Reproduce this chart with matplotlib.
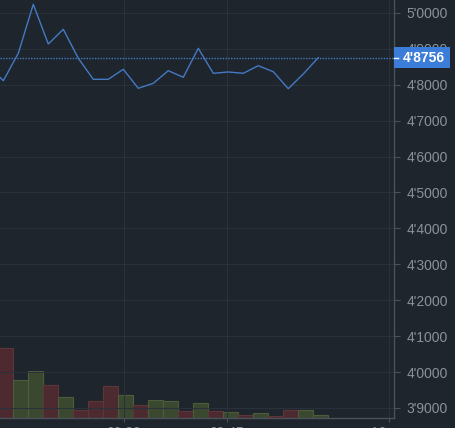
import numpy as np
import matplotlib
matplotlib.use("Agg")
import matplotlib.pyplot as plt
from matplotlib.patches import Rectangle
from matplotlib.transforms import blended_transform_factory, Bbox, TransformedBbox
from matplotlib.lines import Line2D

# ---- data ----
prices = [4.8532, 4.8114, 4.8877, 5.0242, 4.9136, 4.9546, 4.8738, 4.8153,
          4.8153, 4.8432, 4.7903, 4.8042, 4.8393, 4.8209, 4.9017, 4.8320,
          4.8357, 4.8320, 4.8532, 4.8365, 4.7891, 4.8301, 4.8756]
volumes = [None, 70, 38, 47, 33, 21, 8.3, 17, 32, 23.3, 13, 18.3, 17, 7, 15, 7, 6, 3, 5, 2, 8.3, 8, 3]
last_price = 4.8756
y_ticks = [5.0, 4.9, 4.8, 4.7, 4.6, 4.5, 4.4, 4.3, 4.2, 4.1, 4.0, 3.9]
time_tick_pos = [8.05, 14.9, 25.7]
time_tick_labels = ["09:30", "09:45", "10:00"]

BG = "#1e252c"
GRID = "#29313a"
SPINE = "#4a5159"
TXT = "#8a9199"
LINE = "#4479c4"
RED_F, RED_E = "#4c2a30", "#5e353a"
GRN_F, GRN_E = "#3b4830", "#4d5d3b"
BLUE_BOX = "#3b7dd8"

plt.rcParams['font.family'] = ['Liberation Sans', 'DejaVu Sans']

W, H = 456, 428
fig = plt.figure(figsize=(W / 100, H / 100), dpi=100, facecolor=BG)
pos = [0, 10 / H, 394 / W, 418 / H]

x = np.arange(len(prices)) - 1

# volume axis (behind)
axv = fig.add_axes(pos, facecolor=BG)
axv.set_xlim(-0.22, 26.05)
axv.set_ylim(0, 418)
for i in range(1, len(prices)):
    up = prices[i] > prices[i - 1]
    axv.bar(x[i] - 1 / 3, volumes[i], width=1.0, align='edge',
            color=GRN_F if up else RED_F, edgecolor=GRN_E if up else RED_E, linewidth=0.8)
axv.set_axis_off()

# price axis
ax = fig.add_axes(pos, facecolor='none')
ax.set_xlim(-0.22, 26.05)
ax.set_ylim(3.87187, 5.0362)
ax.plot(x, prices, color=LINE, linewidth=1.0, zorder=3)
ax.axhline(last_price, color=LINE, linewidth=1.0, linestyle=(0, (1, 1)), zorder=3)

ax.yaxis.tick_right()
ax.set_yticks(y_ticks)
ax.set_yticklabels([f"{v:.4f}".replace('.', "'") for v in y_ticks])
ax.set_xticks(time_tick_pos)
ax.set_xticklabels(time_tick_labels)
ax.tick_params(axis='y', colors=SPINE, labelcolor=TXT, labelsize=10, length=4, pad=5, width=0.8)
ax.tick_params(axis='x', colors=SPINE, labelcolor=TXT, labelsize=10, length=3, pad=3, width=0.8)
ax.grid(True, color=GRID, linewidth=0.8, zorder=0)
ax.set_axisbelow(True)
for s in ['top', 'left']:
    ax.spines[s].set_visible(False)
for s in ['right', 'bottom']:
    ax.spines[s].set_color(SPINE)
    ax.spines[s].set_linewidth(1.0)

clip = TransformedBbox(Bbox([[0, 0], [390 / W, 1]]), fig.transFigure)
for lbl in ax.get_xticklabels():
    lbl.set_clip_on(True)
    lbl.set_clip_box(clip)

# last price label box
tr = blended_transform_factory(ax.transAxes, ax.transData)
box_h = 21 / 359
ax.add_patch(Rectangle((1.0, last_price - box_h / 2), 56 / 394, box_h, transform=tr,
                       facecolor=BLUE_BOX, edgecolor='none', clip_on=False, zorder=10))
ax.add_line(Line2D([1.0, 1.0 + 4 / 394], [last_price, last_price], transform=tr,
                   color='white', linewidth=1.0, clip_on=False, zorder=11))
ax.text(1.0 + 9 / 394, last_price, f"{last_price:.4f}".replace('.', "'"), transform=tr,
        color='white', fontsize=10, fontweight='bold', va='center', ha='left',
        clip_on=False, zorder=12)

fig.savefig("out.png", dpi=100, facecolor=BG)
